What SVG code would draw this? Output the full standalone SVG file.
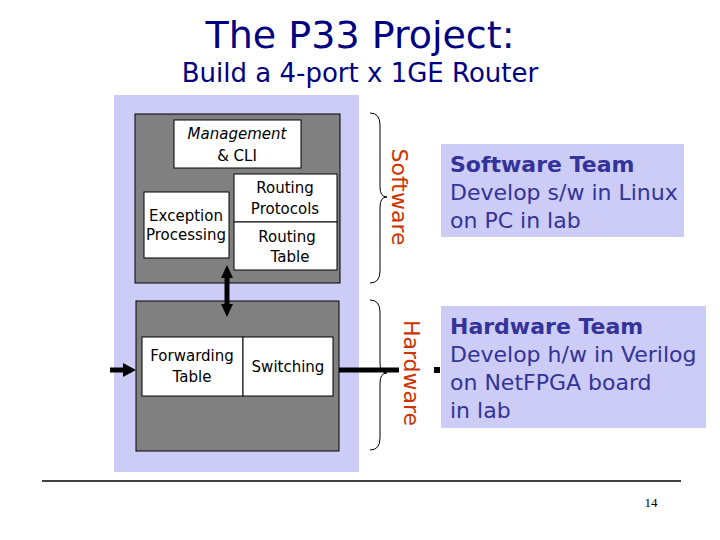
<svg xmlns="http://www.w3.org/2000/svg" width="720" height="540" viewBox="0 0 720 540">
<style>
.t{font-family:"DejaVu Sans","Liberation Sans",sans-serif;}
.box{fill:#ffffff;stroke:#000;stroke-width:1;}
.dark{fill:#808080;stroke:#000;stroke-width:1;}
.lbl{font-family:"DejaVu Sans",sans-serif;font-size:15px;fill:#000;text-anchor:middle;}
.team{fill:#ccccf7;}
.tt{font-family:"DejaVu Sans",sans-serif;font-size:22px;fill:#333399;}
.side{font-family:"DejaVu Sans",sans-serif;font-size:22px;fill:#cc3300;text-anchor:middle;}
.brace{fill:none;stroke:#000;stroke-width:1;}
.shaft{stroke:#000;stroke-width:5;}
.head{fill:#000;}
</style>
<rect width="720" height="540" fill="#fff"/>
<g id="title">
<text class="t" x="360" y="48" font-size="38" fill="#000080" text-anchor="middle">The P33 Project:</text>
<text class="t" x="360" y="82" font-size="26" fill="#000080" text-anchor="middle">Build a 4-port x 1GE Router</text>
</g>
<rect x="114" y="95" width="245" height="377" fill="#ccccf7"/>
<g id="sw-block">
<rect class="dark" x="135" y="114" width="205" height="169"/>
</g>
<g id="hw-block">
<rect class="dark" x="136" y="301" width="203" height="150"/>
</g>
<g id="mgmt">
<rect class="box" x="174" y="120" width="127" height="48"/>
<text class="lbl" x="237" y="139" font-style="italic">Management</text>
<text class="lbl" x="237" y="161">&amp; CLI</text>
</g>
<g id="exception">
<rect class="box" x="144" y="192" width="85" height="66"/>
<text class="lbl" x="186" y="221" font-size="13">Exception</text>
<text class="lbl" x="186" y="240" font-size="13">Processing</text>
</g>
<g id="routing-protocols">
<rect class="box" x="234" y="174" width="103" height="48"/>
<text class="lbl" x="285" y="193">Routing</text>
<text class="lbl" x="285" y="214">Protocols</text>
</g>
<g id="routing-table">
<rect class="box" x="234" y="222" width="103" height="48"/>
<text class="lbl" x="287" y="242">Routing</text>
<text class="lbl" x="290" y="262">Table</text>
</g>
<g id="forwarding">
<rect class="box" x="142" y="337" width="101" height="59"/>
<text class="lbl" x="192" y="361">Forwarding</text>
<text class="lbl" x="192" y="382">Table</text>
</g>
<g id="switching">
<rect class="box" x="243" y="337" width="90" height="59"/>
<text class="lbl" x="288" y="372">Switching</text>
</g>
<g id="connectors">
<line class="shaft" x1="227" y1="276" x2="227" y2="307"/>
<polygon class="head" points="227,265 221,278 233,278"/>
<polygon class="head" points="227,317 221,304 233,304"/>
<line class="shaft" x1="110" y1="370" x2="126" y2="370"/>
<polygon class="head" points="136,370 123,363 123,377"/>
<line class="shaft" x1="339" y1="370" x2="399" y2="370"/>
<rect x="434" y="367" width="6" height="6" fill="#000"/>
<path class="brace" d="M370,113 Q380,113 380,125 L380,187 Q380,197 387,197 Q380,197 380,207 L380,271 Q380,283 370,283"/>
<path class="brace" d="M370,300 Q380,300 380,312 L380,363 Q380,373 387,373 Q380,373 380,383 L380,438 Q380,450 370,450"/>
</g>
<g id="sw-label">
<text class="side" transform="translate(400,197) rotate(90)" y="8">Software</text>
</g>
<g id="hw-label">
<text class="side" transform="translate(412,373) rotate(90)" y="8">Hardware</text>
</g>
<g id="sw-team">
<rect class="team" x="441" y="144" width="243" height="93"/>
<text class="tt" x="450" y="172" font-weight="bold" font-size="21">Software Team</text>
<text class="tt" x="450" y="200">Develop s/w in Linux</text>
<text class="tt" x="450" y="228">on PC in lab</text>
</g>
<g id="hw-team">
<rect class="team" x="441" y="306" width="265" height="122"/>
<text class="tt" x="450" y="334" font-weight="bold" font-size="21">Hardware Team</text>
<text class="tt" x="450" y="362">Develop h/w in Verilog</text>
<text class="tt" x="450" y="390">on NetFPGA board</text>
<text class="tt" x="450" y="418">in lab</text>
</g>
<line x1="42" y1="481" x2="681" y2="481" stroke="#000" stroke-width="1.5"/>
<text x="651" y="507" font-family="Liberation Serif,serif" font-size="13" text-anchor="middle">14</text>
</svg>
